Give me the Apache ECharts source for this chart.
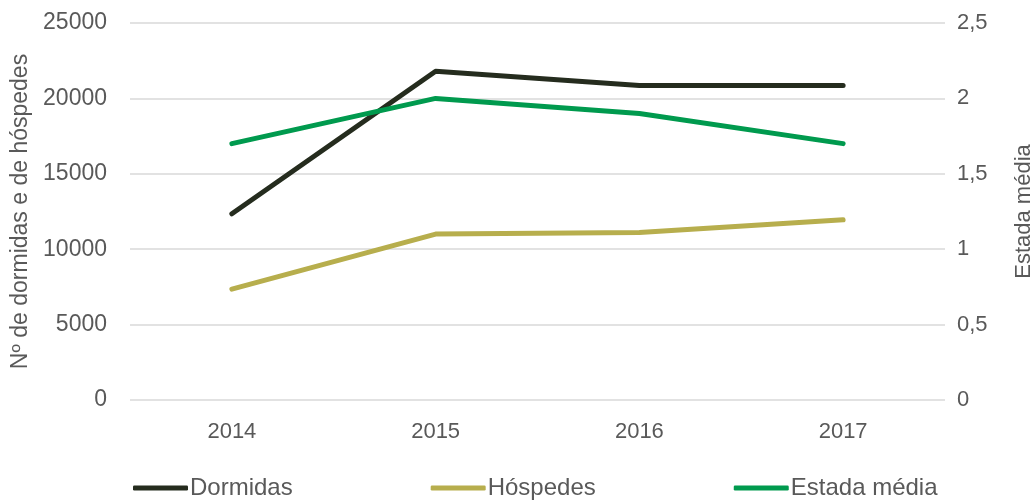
<!DOCTYPE html>
<html>
<head>
<meta charset="utf-8">
<script src="https://cdn.jsdelivr.net/npm/echarts@6/dist/echarts.min.js"></script>
<style>
  html, body { margin: 0; padding: 0; background: #ffffff; overflow: hidden; width: 100%; height: 100%; }
  #chart { width: 1035px; height: 500px; }
</style>
</head>
<body>
<div id="chart"></div>
<script>
// Anos
const years = ['2014', '2015', '2016', '2017'];
// Nº de dormidas e de hóspedes (eixo esquerdo)
const dormidas = [12350, 21800, 20850, 20850];
const hospedes = [7350, 11000, 11100, 11950];
// Estada média (eixo direito)
const estadaMedia = [1.7, 2.0, 1.9, 1.7];

const seriesNames = ['Dormidas', 'Hóspedes', 'Estada média'];
const colors = ['#252c1e', '#b7ae4d', '#009a4e'];

const FONT = 'Liberation Sans';
const TEXT = '#595959';

const chart = echarts.init(document.getElementById('chart'), null, { renderer: 'canvas', width: 1035, height: 500 });

const lineSeries = (name, data, color, axisIndex) => ({
  name: name,
  type: 'line',
  yAxisIndex: axisIndex,
  data: data,
  showSymbol: false,
  symbol: 'none',
  color: color,
  lineStyle: { width: 5, color: color, cap: 'round', join: 'round' },
  emphasis: { disabled: true },
  animation: false
});

chart.setOption({
  animation: false,
  textStyle: { fontFamily: FONT, color: TEXT },
  grid: { left: 130, right: 90, top: 23, bottom: 100, containLabel: false, outerBoundsMode: 'none' },
  legend: {
    left: 128,
    top: 471,
    itemWidth: 55,
    itemHeight: 5,
    itemGap: 138,
    icon: 'roundRect',
    textStyle: { fontFamily: FONT, fontSize: 24, color: TEXT, padding: [0, 0, 0, -3] },
    data: seriesNames
  },
  xAxis: {
    type: 'category',
    data: years,
    boundaryGap: true,
    axisLine: { show: false },
    axisTick: { show: false },
    axisLabel: { fontFamily: FONT, fontSize: 22, color: TEXT, margin: 21 }
  },
  yAxis: [
    {
      type: 'value',
      min: 0,
      max: 25000,
      interval: 5000,
      name: 'Nº de dormidas e de hóspedes',
      nameLocation: 'middle',
      nameGap: 84,
      nameTextStyle: { fontFamily: FONT, fontSize: 23, color: TEXT },
      axisLine: { show: false },
      axisTick: { show: false },
      axisLabel: {
        fontFamily: FONT, fontSize: 23, color: TEXT, margin: 23,
        formatter: v => String(v)
      },
      splitLine: { lineStyle: { color: '#d9d9d9', width: 1.5 } }
    },
    {
      type: 'value',
      min: 0,
      max: 2.5,
      interval: 0.5,
      position: 'right',
      name: 'Estada média',
      nameLocation: 'middle',
      nameGap: 68,
      nameRotate: 90,
      nameTextStyle: { fontFamily: FONT, fontSize: 22, color: TEXT },
      axisLine: { show: false },
      axisTick: { show: false },
      splitLine: { show: false },
      axisLabel: {
        fontFamily: FONT, fontSize: 22, color: TEXT, margin: 12,
        formatter: v => String(v).replace('.', ',')
      }
    }
  ],
  series: [
    lineSeries(seriesNames[0], dormidas, colors[0], 0),
    lineSeries(seriesNames[1], hospedes, colors[1], 0),
    lineSeries(seriesNames[2], estadaMedia, colors[2], 1)
  ]
});
</script>
</body>
</html>
